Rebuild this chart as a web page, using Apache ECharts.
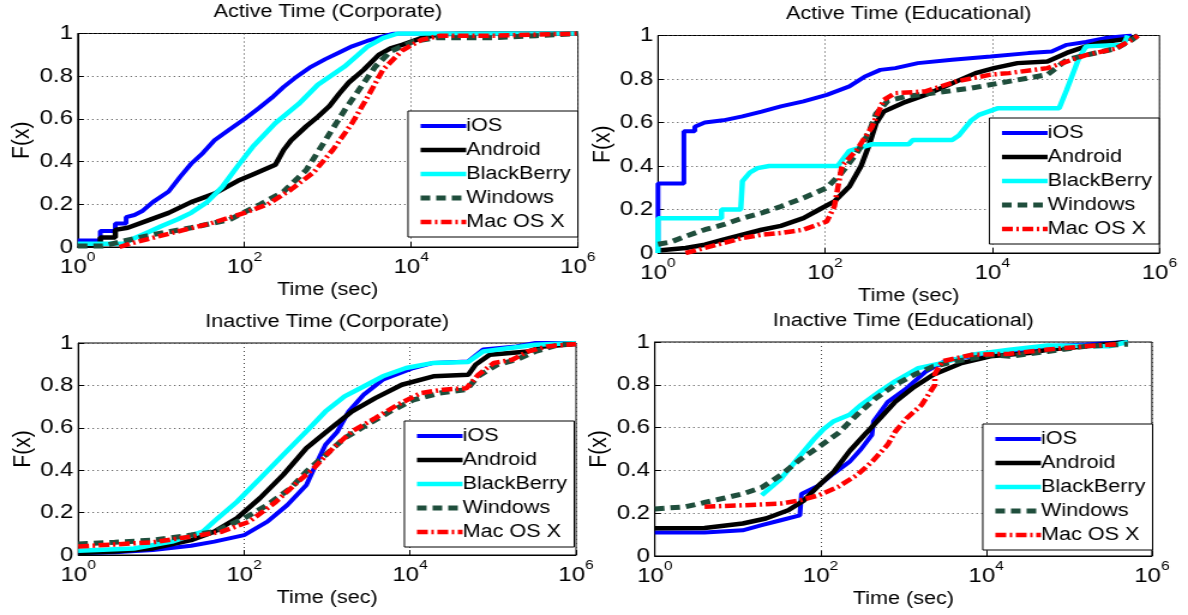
<!DOCTYPE html>
<html>
<head>
<meta charset="utf-8">
<script src="https://cdn.jsdelivr.net/npm/echarts@6/dist/echarts.min.js"></script>
<style>
  html, body { margin: 0; padding: 0; background: #fff; overflow: hidden; }
  /* the figure is laid out 990px wide and widened to the 1188px page */
  #chart { width: 990px; height: 615px; transform: scaleX(1.2); transform-origin: 0 0; }
</style>
</head>
<body>
<div id="chart"></div>
<script>
// Empirical CDFs of session times. Each point is [log10(time in seconds), F(x)].

const osNames = ['iOS', 'Android', 'BlackBerry', 'Windows', 'Mac OS X'];
const panelTitles = ['Active Time (Corporate)', 'Active Time (Educational)',
                     'Inactive Time (Corporate)', 'Inactive Time (Educational)'];
const xTickExponents = [0, 2, 4, 6];
const yTicks = [0, 0.2, 0.4, 0.6, 0.8, 1];

// Active time, corporate network
const activeCorpIOS = [[0,0.03],[0.27,0.03],[0.27,0.075],[0.45,0.075],[0.45,0.11],[0.58,0.11],[0.58,0.14],[0.68,0.15],[0.78,0.17],[0.9,0.21],[1.09,0.26],[1.23,0.33],[1.36,0.39],[1.5,0.44],[1.64,0.5],[1.82,0.55],[2.0,0.6],[2.17,0.65],[2.33,0.7],[2.47,0.75],[2.6,0.79],[2.78,0.84],[2.97,0.88],[3.13,0.91],[3.29,0.94],[3.47,0.965],[3.66,0.986],[3.8,1],[6,1]];
const activeCorpAndroid = [[0,0.01],[0.27,0.01],[0.27,0.045],[0.45,0.045],[0.45,0.08],[0.6,0.09],[0.81,0.12],[1.09,0.16],[1.36,0.21],[1.64,0.25],[1.92,0.31],[2.1,0.34],[2.28,0.37],[2.37,0.385],[2.47,0.455],[2.56,0.5],[2.74,0.565],[2.88,0.61],[3.02,0.66],[3.14,0.72],[3.25,0.77],[3.43,0.83],[3.61,0.9],[3.75,0.93],[3.89,0.947],[4.12,0.978],[4.35,0.997],[4.6,1],[6,1]];
const activeCorpBlackBerry = [[0,0.015],[0.55,0.015],[0.67,0.04],[0.85,0.07],[1.0,0.097],[1.2,0.13],[1.36,0.16],[1.55,0.21],[1.73,0.28],[1.92,0.38],[2.1,0.47],[2.37,0.58],[2.65,0.67],[2.88,0.76],[3.2,0.845],[3.48,0.94],[3.66,0.978],[3.84,1],[6,1]];
const activeCorpWindows = [[0,0.005],[0.3,0.005],[0.54,0.027],[0.9,0.058],[1.36,0.09],[1.82,0.128],[2.19,0.2],[2.47,0.26],[2.74,0.36],[2.97,0.5],[3.2,0.64],[3.38,0.74],[3.57,0.845],[3.75,0.916],[4.03,0.963],[4.3,0.98],[5,0.98],[5.5,0.99],[6,1]];
const activeCorpMac = [[0.5,0],[0.67,0.02],[1.13,0.066],[1.59,0.11],[2.0,0.16],[2.28,0.2],[2.56,0.27],[2.83,0.35],[3.06,0.455],[3.29,0.58],[3.48,0.705],[3.66,0.83],[3.89,0.92],[4.12,0.97],[4.35,0.99],[5,0.99],[6,1]];

// Active time, educational network
const activeEduIOS = [[0,0],[0,0.32],[0.31,0.32],[0.31,0.56],[0.44,0.56],[0.44,0.58],[0.56,0.6],[0.78,0.61],[1.01,0.628],[1.24,0.65],[1.47,0.674],[1.74,0.697],[2.02,0.727],[2.29,0.766],[2.47,0.81],[2.66,0.842],[2.84,0.85],[3.11,0.873],[3.52,0.888],[3.98,0.903],[4.43,0.919],[4.71,0.926],[4.89,0.957],[5.12,0.97],[5.35,0.988],[5.67,1]];
const activeEduAndroid = [[0,0.012],[0.33,0.023],[0.56,0.038],[0.78,0.061],[1.01,0.084],[1.24,0.107],[1.47,0.125],[1.74,0.16],[1.93,0.2],[2.11,0.237],[2.29,0.306],[2.43,0.4],[2.52,0.49],[2.61,0.597],[2.7,0.65],[2.93,0.69],[3.2,0.727],[3.52,0.78],[3.8,0.827],[4.02,0.85],[4.3,0.873],[4.66,0.88],[4.89,0.92],[5.12,0.95],[5.3,0.968],[5.67,0.988],[5.74,1]];
const activeEduBlackBerry = [[0,0],[0,0.16],[0.76,0.16],[0.76,0.2],[0.99,0.2],[1.01,0.33],[1.1,0.37],[1.19,0.39],[1.33,0.4],[2.15,0.4],[2.29,0.47],[2.56,0.5],[3.0,0.5],[3.05,0.52],[3.52,0.52],[3.6,0.54],[3.75,0.61],[3.84,0.635],[4.07,0.666],[4.8,0.666],[4.89,0.75],[5.03,0.89],[5.12,0.95],[5.57,0.957],[5.62,1]];
const activeEduWindows = [[0,0.04],[0.15,0.05],[0.33,0.077],[0.56,0.107],[0.78,0.13],[1.01,0.16],[1.24,0.184],[1.47,0.214],[1.74,0.253],[2.02,0.3],[2.2,0.37],[2.38,0.46],[2.52,0.55],[2.61,0.64],[2.75,0.7],[2.97,0.72],[3.29,0.735],[3.75,0.758],[4.2,0.789],[4.66,0.82],[4.89,0.888],[5.12,0.91],[5.48,0.94],[5.67,0.98],[5.74,1]];
const activeEduMac = [[0.33,0],[0.56,0.023],[1.01,0.069],[1.24,0.084],[1.47,0.092],[1.74,0.107],[2.02,0.145],[2.11,0.214],[2.2,0.4],[2.38,0.475],[2.56,0.58],[2.7,0.704],[2.84,0.735],[3.2,0.743],[3.57,0.789],[3.98,0.82],[4.2,0.827],[4.66,0.85],[4.89,0.88],[5.12,0.91],[5.48,0.94],[5.71,0.99],[5.74,1]];

// Inactive time, corporate network
const inactiveCorpIOS = [[0,0.01],[0.44,0.013],[0.9,0.024],[1.36,0.044],[1.64,0.063],[2.0,0.094],[2.28,0.157],[2.52,0.236],[2.75,0.33],[2.88,0.44],[2.98,0.52],[3.12,0.58],[3.26,0.677],[3.44,0.756],[3.67,0.827],[4.04,0.882],[4.28,0.906],[4.7,0.913],[4.88,0.969],[5.28,0.984],[5.51,1],[6,1]];
const inactiveCorpAndroid = [[0,0.01],[0.44,0.016],[0.9,0.031],[1.36,0.07],[1.64,0.11],[1.91,0.173],[2.19,0.268],[2.47,0.378],[2.75,0.504],[3.02,0.59],[3.3,0.677],[3.58,0.74],[3.9,0.803],[4.28,0.843],[4.7,0.85],[4.79,0.898],[4.96,0.945],[5.42,0.96],[5.61,0.984],[6,0.995]];
const inactiveCorpBlackBerry = [[0,0.02],[0.67,0.031],[1.13,0.063],[1.5,0.11],[1.68,0.173],[1.91,0.25],[2.19,0.36],[2.47,0.472],[2.75,0.583],[2.98,0.677],[3.21,0.748],[3.48,0.803],[3.67,0.843],[3.95,0.882],[4.28,0.906],[4.7,0.91],[4.88,0.96],[5.51,0.992],[6,1]];
const inactiveCorpWindows = [[0,0.052],[0.44,0.06],[0.9,0.07],[1.36,0.094],[1.64,0.11],[2.0,0.173],[2.28,0.236],[2.56,0.315],[2.75,0.394],[2.98,0.472],[3.21,0.551],[3.48,0.614],[3.76,0.677],[4.04,0.732],[4.36,0.764],[4.68,0.78],[4.82,0.843],[5.05,0.898],[5.28,0.921],[5.51,0.96],[5.79,0.992],[6,0.995]];
const inactiveCorpMac = [[0,0.04],[0.44,0.05],[0.9,0.06],[1.36,0.087],[1.73,0.11],[2.06,0.157],[2.38,0.25],[2.65,0.346],[2.84,0.41],[3.07,0.504],[3.3,0.583],[3.58,0.646],[3.85,0.709],[4.13,0.764],[4.4,0.78],[4.68,0.787],[4.82,0.85],[5.01,0.906],[5.23,0.921],[5.42,0.96],[5.65,0.984],[6,0.995]];

// Inactive time, educational network
const inactiveEduIOS = [[0,0.11],[0.6,0.11],[1.06,0.12],[1.29,0.144],[1.52,0.167],[1.75,0.19],[1.77,0.29],[1.98,0.33],[2.16,0.386],[2.35,0.44],[2.49,0.5],[2.62,0.566],[2.64,0.63],[2.81,0.72],[3.04,0.784],[3.27,0.862],[3.5,0.91],[3.82,0.933],[4.28,0.956],[4.74,0.98],[5.2,0.988],[5.71,1]];
const inactiveEduAndroid = [[0,0.13],[0.6,0.131],[1.06,0.152],[1.34,0.175],[1.61,0.214],[1.8,0.26],[1.98,0.33],[2.16,0.394],[2.35,0.49],[2.53,0.566],[2.72,0.644],[2.9,0.72],[3.13,0.79],[3.36,0.847],[3.69,0.9],[4.05,0.933],[4.51,0.948],[4.74,0.964],[5.2,0.98],[5.71,1]];
const inactiveEduBlackBerry = [[1.29,0.284],[1.52,0.36],[1.66,0.425],[1.8,0.49],[1.93,0.55],[2.03,0.59],[2.16,0.63],[2.35,0.66],[2.49,0.706],[2.72,0.77],[2.9,0.816],[3.18,0.878],[3.45,0.9],[3.82,0.94],[4.28,0.964],[4.74,0.984],[5.48,0.98],[5.71,1]];
const inactiveEduWindows = [[0,0.22],[0.37,0.23],[0.6,0.25],[0.83,0.27],[1.06,0.29],[1.29,0.32],[1.52,0.378],[1.75,0.45],[1.98,0.51],[2.21,0.573],[2.44,0.66],[2.67,0.738],[2.9,0.8],[3.13,0.847],[3.36,0.886],[3.64,0.91],[4.05,0.94],[4.28,0.933],[4.74,0.956],[5.2,0.98],[5.71,0.99]];
const inactiveEduMac = [[0.6,0.23],[1.06,0.237],[1.52,0.245],[1.75,0.26],[1.98,0.284],[2.21,0.323],[2.44,0.378],[2.62,0.44],[2.81,0.52],[2.9,0.58],[3.04,0.644],[3.22,0.706],[3.38,0.8],[3.38,0.85],[3.47,0.91],[3.82,0.94],[4.28,0.945],[4.74,0.965],[5.2,0.98],[5.57,0.99]];

const panelData = [
  [activeCorpIOS, activeCorpAndroid, activeCorpBlackBerry, activeCorpWindows, activeCorpMac],
  [activeEduIOS, activeEduAndroid, activeEduBlackBerry, activeEduWindows, activeEduMac],
  [inactiveCorpIOS, inactiveCorpAndroid, inactiveCorpBlackBerry, inactiveCorpWindows, inactiveCorpMac],
  [inactiveEduIOS, inactiveEduAndroid, inactiveEduBlackBerry, inactiveEduWindows, inactiveEduMac]
];

const FONT = '"Liberation Sans", Arial, Helvetica, sans-serif';

// Line look per OS
const osStyles = [
  { color: '#0000ff', width: 4, type: 'solid' },
  { color: '#000000', width: 4.5, type: 'solid' },
  { color: '#00ffff', width: 4.5, type: 'solid' },
  { color: '#1f4e3c', width: 5, type: [8, 5] },
  { color: '#ff0000', width: 4.5, type: [9, 3, 2, 3] }
];

// Plot-area rectangles (in the 990px-wide layout) and legend anchors
const grids = [
  { left: 64.8, top: 33.5, width: 416.8, height: 213.5 },
  { left: 548.3, top: 35.5, width: 417.9, height: 217.5 },
  { left: 65.2, top: 343, width: 414.8, height: 212 },
  { left: 545.7, top: 342, width: 414.2, height: 214 }
];
const legendPos = [
  { right: 508.5, top: 111 },
  { right: 24, top: 118 },
  { right: 511.5, top: 421 },
  { right: 29.5, top: 424 }
];

const option = {
  animation: false,
  backgroundColor: '#fff',
  grid: grids.map(g => Object.assign({ show: true, borderColor: '#000', borderWidth: 1, backgroundColor: 'transparent' }, g)),
  xAxis: grids.map((g, i) => ({
    type: 'value', gridIndex: i, min: 0, max: 6, interval: 2,
    name: 'Time (sec)', nameLocation: 'middle', nameGap: 34,
    nameTextStyle: { fontFamily: FONT, fontSize: 18, color: '#000' },
    axisLine: { show: true, lineStyle: { color: '#000', width: 1 } },
    axisTick: { show: true, inside: true, length: 5, lineStyle: { color: '#000' } },
    splitLine: { show: true, lineStyle: { color: '#444', width: 1, type: [1, 3] } },
    axisLabel: {
      margin: 4,
      formatter: v => xTickExponents.includes(v) ? '{b|10}{s|' + v + '}' : '',
      rich: {
        b: { fontFamily: FONT, fontSize: 20, color: '#000', lineHeight: 26, verticalAlign: 'bottom' },
        s: { fontFamily: FONT, fontSize: 13, color: '#000', lineHeight: 26, verticalAlign: 'top' }
      }
    }
  })),
  yAxis: grids.map((g, i) => ({
    type: 'value', gridIndex: i, min: 0, max: 1, interval: 0.2,
    name: 'F(x)', nameLocation: 'middle', nameGap: 35, nameRotate: 90,
    nameTextStyle: { fontFamily: FONT, fontSize: 21, color: '#000' },
    axisLine: { show: true, lineStyle: { color: '#000', width: 1 } },
    axisTick: { show: true, inside: true, length: 5, lineStyle: { color: '#000' } },
    splitLine: { show: true, lineStyle: { color: '#444', width: 1, type: [1, 3] } },
    axisLabel: {
      margin: 4, fontFamily: FONT, fontSize: 20, color: '#000',
      formatter: v => yTicks.includes(v) ? String(v) : ''
    }
  })),
  legend: legendPos.map(p => Object.assign({
    orient: 'vertical', align: 'left', selectedMode: false,
    data: osNames,
    itemWidth: 38, itemHeight: 20, itemGap: 6, padding: [6, 6, 6, 8],
    itemStyle: { opacity: 0, borderWidth: 0 },
    lineStyle: { width: 'inherit', type: 'inherit', opacity: 1 },
    borderColor: '#000', borderWidth: 1, borderRadius: 0, backgroundColor: '#fff',
    textStyle: { fontFamily: FONT, fontSize: 18, color: '#000', padding: [0, 0, 0, -5] }
  }, p)),
  graphic: panelTitles.map((t, i) => ({
    type: 'text',
    x: grids[i].left + grids[i].width / 2,
    y: grids[i].top - 21,
    style: { text: t, fontFamily: FONT, fontSize: 18, fill: '#000', align: 'center', verticalAlign: 'middle' }
  })),
  series: []
};

panelData.forEach((lines, p) => {
  lines.forEach((pts, k) => {
    const st = osStyles[k];
    option.series.push({
      name: osNames[k],
      type: 'line',
      xAxisIndex: p, yAxisIndex: p,
      data: pts,
      symbol: 'none', showSymbol: false,
      clip: true,
      lineStyle: { color: st.color, width: st.width, type: st.type },
      itemStyle: { color: st.color }
    });
  });
});

const chart = echarts.init(document.getElementById('chart'), null, { renderer: 'canvas' });
chart.setOption(option);
</script>
</body>
</html>
